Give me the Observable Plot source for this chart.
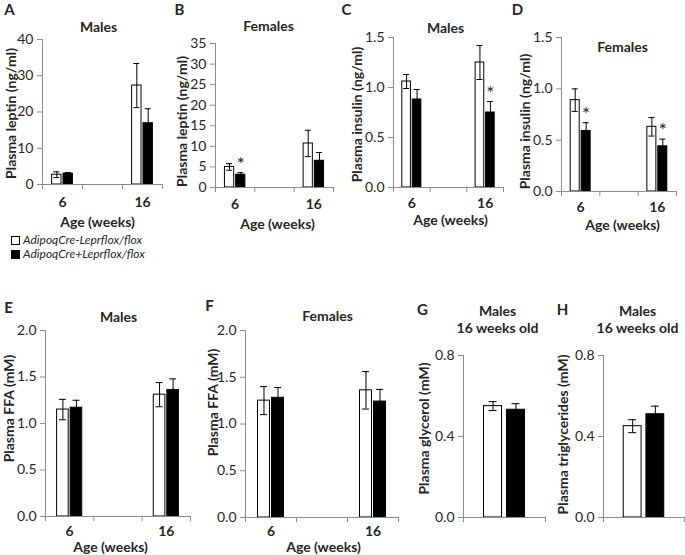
<!DOCTYPE html>
<html><head><meta charset="utf-8">
<script src="https://cdn.jsdelivr.net/npm/d3@7"></script>
<script src="https://cdn.jsdelivr.net/npm/@observablehq/plot@0.6"></script>
<style>
body{margin:0;background:#fff;}
#fig{position:relative;width:685px;height:555px;font-family:Lato,"Open Sans",sans-serif;color:#262626;overflow:hidden;}
#fig svg{position:absolute;}
.leg{position:absolute;left:11px;font-size:12px;font-style:italic;line-height:14px;}
.leg div{display:flex;align-items:center;height:14px;}
.sw{display:inline-block;width:7px;height:7px;border:1px solid #000;margin-right:3px;}
</style></head>
<body><div id="fig">
<div class="leg" style="top:233px">
<div><span class="sw" style="background:#fff"></span><span id="g0"></span></div>
<div><span class="sw" style="background:#000"></span><span id="g1"></span></div>
</div>
</div>
<script>
// ---- data ----
const genotypes = ["AdipoqCre-Leprflox/flox", "AdipoqCre+Leprflox/flox"];
const ageCats = ["6", "", "16"];
const ages = ["6", "16"];
const ages16 = ["16"];

// A: plasma leptin (ng/ml), males
const leptinMCtrl = [2.7, 27.3], leptinMCtrlSE = [0.8, 6.1];
const leptinMKO = [3.0, 16.9], leptinMKOSE = [0.3, 4.0];
const leptinMStar = [false, false];
// B: plasma leptin, females
const leptinFCtrl = [5.0, 10.7], leptinFCtrlSE = [0.8, 3.2];
const leptinFKO = [3.1, 6.5], leptinFKOSE = [0.5, 2.0];
const leptinFStar = [true, false];
// C: plasma insulin (ng/ml), males
const insulinMCtrl = [1.06, 1.25], insulinMCtrlSE = [0.07, 0.17];
const insulinMKO = [0.88, 0.75], insulinMKOSE = [0.10, 0.11];
const insulinMStar = [false, true];
// D: plasma insulin, females
const insulinFCtrl = [0.89, 0.63], insulinFCtrlSE = [0.11, 0.09];
const insulinFKO = [0.59, 0.44], insulinFKOSE = [0.08, 0.07];
const insulinFStar = [true, true];
// E: plasma FFA (mM), males
const ffaMCtrl = [1.15, 1.31], ffaMCtrlSE = [0.11, 0.13];
const ffaMKO = [1.17, 1.36], ffaMKOSE = [0.08, 0.12];
// F: plasma FFA, females
const ffaFCtrl = [1.25, 1.36], ffaFCtrlSE = [0.15, 0.20];
const ffaFKO = [1.28, 1.24], ffaFKOSE = [0.11, 0.13];
const noStar = [false, false];
// G: plasma glycerol (mM), males 16 weeks
const glycerolCtrl = [0.55], glycerolCtrlSE = [0.022];
const glycerolKO = [0.532], glycerolKOSE = [0.03];
// H: plasma triglycerides (mM), males 16 weeks
const tgCtrl = [0.451], tgCtrlSE = [0.032];
const tgKO = [0.51], tgKOSE = [0.04];

const ticksLeptinM = [0, 10, 20, 30, 40];
const ticksLeptinF = [0, 5, 10, 15, 20, 25, 30, 35];
const ticksInsulin = [0, 0.5, 1.0, 1.5];
const ticksFFA = [0, 0.5, 1.0, 1.5, 2.0];
const ticksG = [0, 0.4, 0.8];

function rows(cats, c, cse, k, kse, star) {
  const out = [];
  cats.forEach((a, i) => {
    out.push({age: a, g: 0, mean: c[i], se: cse[i], star: false});
    out.push({age: a, g: 1, mean: k[i], se: kse[i], star: star[i]});
  });
  return out;
}

const AX = "#8c8c8c", TXT = "#262626";
const fig = document.getElementById("fig");
document.getElementById("g0").textContent = genotypes[0];
document.getElementById("g1").textContent = genotypes[1];

function panel(p) {
  const [L, T, W, H] = p.box;
  const [x0, x1, y0, y1] = p.frame;
  const cats = p.cats;
  const step = (x1 - x0) / cats.length;
  const half = step / 2;
  const barW = p.barFrac * step, gap = p.gapFrac * step;
  const off = gap / 2 + barW / 2;
  const ins = (o, w) => ({insetLeft: half + o - w / 2, insetRight: half - o - w / 2});
  const at = (px, py) => ({frameAnchor: "top-left", dx: px - x0, dy: py - y0});
  const ctrl = p.data.filter(d => d.g === 0), ko = p.data.filter(d => d.g === 1);
  const txt = (s, px, py, o = {}) => Plot.text([s], {text: d => d, ...at(px, py), textAnchor: "middle", lineAnchor: "middle", fill: TXT, fontWeight: "bold", fontSize: 14, ...o});
  const marks = [
    Plot.barY(ctrl, {x: "age", y: "mean", fill: "#fff", stroke: "#000", strokeWidth: 1, ...ins(-off, barW)}),
    Plot.barY(ko, {x: "age", y: "mean", fill: "#000", stroke: "#000", strokeWidth: 1, ...ins(off, barW)}),
    Plot.ruleX(ctrl, {x: "age", y1: d => d.mean - d.se, y2: d => d.mean + d.se, dx: -off, stroke: "#000"}),
    Plot.ruleX(ko, {x: "age", y1: d => d.mean - d.se, y2: d => d.mean + d.se, dx: off, stroke: "#000"}),
    Plot.tickY(ctrl, {x: "age", y: d => d.mean + d.se, stroke: "#000", ...ins(-off, p.capW)}),
    Plot.tickY(ctrl, {x: "age", y: d => d.mean - d.se, stroke: "#000", ...ins(-off, p.capW)}),
    Plot.tickY(ko, {x: "age", y: d => d.mean + d.se, stroke: "#000", ...ins(off, p.capW)}),
    Plot.text(ko.filter(d => d.star), {x: "age", y: d => d.mean + d.se, text: () => "*", dx: off, dy: -8, fontSize: 19, fill: TXT, lineAnchor: "middle"}),
    // axis lines
    Plot.ruleY([p.yDomain[0]], {stroke: AX}),
    Plot.ruleX([cats[0]], {x: d => d, dx: -half, stroke: AX}),
    Plot.ruleX(cats, {x: d => d, y1: p.yDomain[0], y2: p.yDomain[0], dx: -half, insetBottom: -5, stroke: AX}),
    Plot.ruleX([cats[cats.length - 1]], {x: d => d, y1: p.yDomain[0], y2: p.yDomain[0], dx: half, insetBottom: -5, stroke: AX}),
    Plot.axisY({ticks: p.yTicks, tickFormat: p.fmt, tickSize: 5, tickPadding: 4, stroke: AX, fill: TXT, fontSize: 14, label: null}),
    txt(p.letter, p.letterPos[0], p.letterPos[1], {fontSize: 15}),
    txt(p.ylabel, p.ylabelPos[0], p.ylabelPos[1], {rotate: -90}),
    ...p.titles.map(([s, px, py]) => txt(s, px, py))
  ];
  if (p.xlabelPos) {
    marks.push(Plot.axisX({tickSize: 0, tickPadding: p.xPad, fontWeight: "bold", fontSize: 14, fill: TXT, label: null}));
    marks.push(txt("Age (weeks)", p.xlabelPos[0], p.xlabelPos[1]));
  }
  const svg = Plot.plot({
    width: W, height: H,
    marginLeft: x0 - L, marginRight: L + W - x1, marginTop: y0 - T, marginBottom: T + H - y1,
    style: "font-family: Lato, 'Open Sans', sans-serif; overflow: visible; background: transparent;",
    x: {type: "band", domain: cats, padding: 0, round: false, axis: p.xlabelPos ? undefined : null},
    y: {domain: p.yDomain},
    marks
  });
  svg.style.left = L + "px";
  svg.style.top = T + "px";
  fig.appendChild(svg);
}

const f1 = d => d.toFixed(1);
const topRow = {barFrac: 0.235, gapFrac: 0.05, capW: 6};

panel({...topRow, box: [0, 0, 170, 240], frame: [42, 162, 39, 184], cats: ageCats,
  data: rows(ages, leptinMCtrl, leptinMCtrlSE, leptinMKO, leptinMKOSE, leptinMStar),
  yDomain: [0, 40], yTicks: ticksLeptinM, fmt: d => String(d),
  letter: "A", letterPos: [9, 10], ylabel: "Plasma leptin (ng/ml)", ylabelPos: [11, 113],
  titles: [["Males", 98, 27]], xlabelPos: [97, 222], xPad: 13});
panel({...topRow, box: [170, 0, 170, 240], frame: [215, 333, 43, 187], cats: ageCats,
  data: rows(ages, leptinFCtrl, leptinFCtrlSE, leptinFKO, leptinFKOSE, leptinFStar),
  yDomain: [0, 35], yTicks: ticksLeptinF, fmt: d => String(d),
  letter: "B", letterPos: [179, 10], ylabel: "Plasma leptin (ng/ml)", ylabelPos: [182, 121],
  titles: [["Females", 268, 26]], xlabelPos: [277, 224], xPad: 12});
panel({...topRow, box: [340, 0, 170, 240], frame: [393, 503, 37, 187], cats: ageCats,
  data: rows(ages, insulinMCtrl, insulinMCtrlSE, insulinMKO, insulinMKOSE, insulinMStar),
  yDomain: [0, 1.5], yTicks: ticksInsulin, fmt: f1,
  letter: "C", letterPos: [346, 10], ylabel: "Plasma insulin (ng/ml)", ylabelPos: [357, 114],
  titles: [["Males", 445, 28]], xlabelPos: [450, 220], xPad: 11});
panel({...topRow, box: [510, 0, 175, 240], frame: [561, 676, 37, 191], cats: ageCats,
  data: rows(ages, insulinFCtrl, insulinFCtrlSE, insulinFKO, insulinFKOSE, insulinFStar),
  yDomain: [0, 1.5], yTicks: ticksInsulin, fmt: f1,
  letter: "D", letterPos: [517, 10], ylabel: "Plasma insulin (ng/ml)", ylabelPos: [525, 121],
  titles: [["Females", 622, 47]], xlabelPos: [622, 225], xPad: 11});
panel({barFrac: 0.24, gapFrac: 0.04, capW: 7, box: [0, 290, 200, 265], frame: [45, 190, 330, 516], cats: ageCats,
  data: rows(ages, ffaMCtrl, ffaMCtrlSE, ffaMKO, ffaMKOSE, noStar),
  yDomain: [0, 2], yTicks: ticksFFA, fmt: f1,
  letter: "E", letterPos: [8, 308], ylabel: "Plasma FFA (mM)", ylabelPos: [9, 408],
  titles: [["Males", 118, 317]], xlabelPos: [110, 547], xPad: 10});
panel({barFrac: 0.235, gapFrac: 0.04, capW: 7, box: [200, 290, 210, 265], frame: [245, 398, 330, 517], cats: ageCats,
  data: rows(ages, ffaFCtrl, ffaFCtrlSE, ffaFKO, ffaFKOSE, noStar),
  yDomain: [0, 2], yTicks: ticksFFA, fmt: f1,
  letter: "F", letterPos: [209, 306], ylabel: "Plasma FFA (mM)", ylabelPos: [213, 402],
  titles: [["Females", 327, 316]], xlabelPos: [323, 547], xPad: 9});
panel({barFrac: 0.22, gapFrac: 0.06, capW: 8, box: [410, 290, 140, 265], frame: [463, 545, 355, 517], cats: ages16,
  data: rows(ages16, glycerolCtrl, glycerolCtrlSE, glycerolKO, glycerolKOSE, [false]),
  yDomain: [0, 0.8], yTicks: ticksG, fmt: f1,
  letter: "G", letterPos: [422, 310], ylabel: "Plasma glycerol (mM)", ylabelPos: [424, 428],
  titles: [["Males", 497, 311], ["16 weeks old", 497, 328]]});
panel({barFrac: 0.22, gapFrac: 0.06, capW: 8, box: [550, 290, 135, 265], frame: [603, 684, 355, 517], cats: ages16,
  data: rows(ages16, tgCtrl, tgCtrlSE, tgKO, tgKOSE, [false]),
  yDomain: [0, 0.8], yTicks: ticksG, fmt: f1,
  letter: "H", letterPos: [562, 310], ylabel: "Plasma triglycerides (mM)", ylabelPos: [563, 434],
  titles: [["Males", 637, 311], ["16 weeks old", 637, 328]]});
</script>
</body></html>
